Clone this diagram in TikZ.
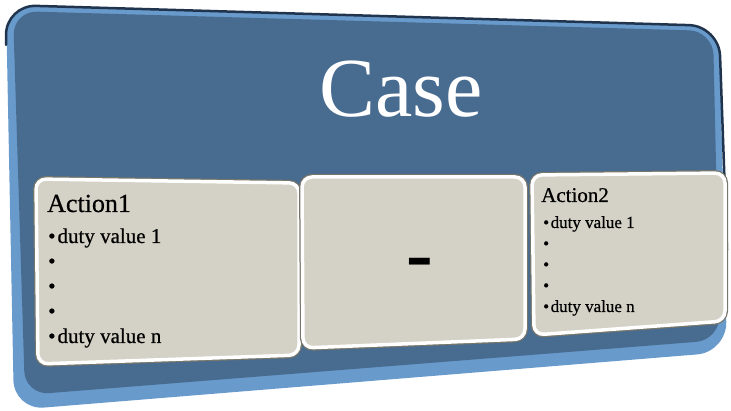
\documentclass[tikz,border=0pt]{standalone}
\usepackage{fontspec}
\setmainfont{Liberation Serif}
\newfontfamily\cardfont{Liberation Serif}[FakeBold=0.6]
\usepackage{tikz}
\usetikzlibrary{positioning}
\definecolor{rim}{RGB}{104,154,204}
\definecolor{face}{RGB}{72,107,144}
\definecolor{edge}{RGB}{32,52,78}
\definecolor{card}{RGB}{212,210,198}
\definecolor{cardedge}{RGB}{118,118,108}

\begin{document}
\begin{tikzpicture}[x=1pt,y=-1pt,
  panel/.style={fill=rim,rounded corners=30pt},
  facebox/.style={fill=face,rounded corners=24pt},
  cardline/.style={draw=cardedge,line width=6pt,rounded corners=10pt},
  cardbox/.style={fill=card,draw=white,line width=3.5pt,rounded corners=10pt},
  head/.style={anchor=base west,inner sep=0pt},
  itemL/.style={anchor=base west,inner sep=0pt,font=\cardfont\fontsize{21}{24}\selectfont},
  itemR/.style={anchor=base west,inner sep=0pt,font=\cardfont\fontsize{17}{20}\selectfont}]
\useasboundingbox (0,0) rectangle (731,411);
% tilted blue panel
\path[panel] (6,5) -- (719,26) -- (727,352) -- (14,410) -- cycle;
\path[facebox] (13,11) -- (713,31) -- (720,340) -- (25,395) -- cycle;
\draw[edge,line width=2.5pt,rounded corners=30pt,line cap=round] (6,45) -- (6,5) -- (719,26) -- (727,250);
% the three cards
\foreach \p in {{(36,179) -- (299,183) -- (299,355) -- (38,364) -- cycle},
                {(302,177) -- (525,177) -- (525,339) -- (303,348) -- cycle},
                {(532,175) -- (725,173) -- (725,321) -- (534,335) -- cycle}}
  {\path[cardline] \p; \path[cardbox] \p;}
\node[anchor=base,inner sep=0pt,text=white,font=\fontsize{84}{90}\selectfont] (case) at (401,117) {Case};
\node[head,font=\cardfont\fontsize{26}{30}\selectfont] (act1) at (47,212) {Action1};
\foreach \t [count=\i from 0] in {duty value 1,{},{},{},duty value n}
  \node[itemL] (a1-\i) at (48,243+25*\i) {\textbullet\hspace{2pt}\t};
\node[anchor=base,inner sep=0pt,font=\fontsize{80}{80}\bfseries\selectfont] (gap) at (420,281) {-};
\node[head,font=\cardfont\fontsize{21}{25}\selectfont] (act2) at (541,202) {Action2};
\foreach \t [count=\i from 0] in {duty value 1,{},{},{},duty value n}
  \node[itemR] (a2-\i) at (543,228+21*\i) {\textbullet\hspace{1.5pt}\t};
\end{tikzpicture}
\end{document}
